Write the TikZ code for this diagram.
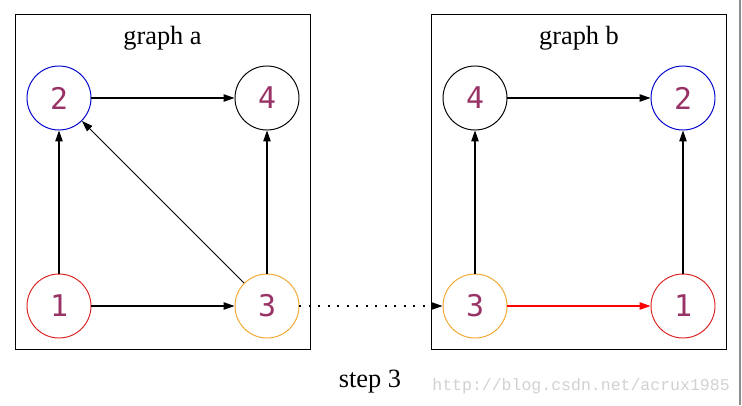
\documentclass[tikz,border=0pt]{standalone}
\usepackage{fontspec}
\setmainfont{Liberation Serif}
\newfontfamily\digitfont{DejaVu Sans Mono}
\newfontfamily\markfont{Liberation Mono}
\usepackage{xcolor}
\usepackage{tikz}
\usetikzlibrary{positioning}
\usetikzlibrary{arrows.meta}
\usetikzlibrary{fit}

\definecolor{numcol}{HTML}{993366}
\definecolor{vblue}{HTML}{0000CC}
\definecolor{vred}{HTML}{DD2222}
\definecolor{vorange}{HTML}{F0A830}

\begin{document}
\begin{tikzpicture}[node distance=4.16cm,
		vtx/.style={draw, circle, minimum size=1.28cm, inner sep=0pt, line width=0.55pt, text=numcol, font=\digitfont\fontsize{17}{20}\selectfont},
		edge/.style={-{Triangle[length=0.22cm, width=0.15cm]}, line width=0.6pt},
		frame/.style={draw, rectangle, inner sep=0.22cm, line width=0.65pt},
		title/.style={anchor=base, inner sep=0pt, font=\fontsize{15}{18}\selectfont}]
			\useasboundingbox (0,0) rectangle (14.84,8.1);

			% graph a
			\node[vtx, draw=vred] (a1) at (1.18,1.98) {1};
			\node[vtx, draw=vorange, right of=a1] (a3) {3};
			\node[vtx, draw=vblue, above of=a1] (a2) {2};
			\node[vtx, right of=a2] (a4) {4};
			\node[title] (ta) at (3.25,7.22) {graph a};
			\node[frame, fit=(a1)(a4)(ta)] (fa) {};

			\draw[edge] (a1) -- (a2);
			\draw[edge] (a1) -- (a3);
			\draw[edge] (a2) -- (a4);
			\draw[edge] (a3) -- (a2);
			\draw[edge] (a3) -- (a4);

			% graph b
			\node[vtx, draw=vorange] (b3) at (9.50,1.98) {3};
			\node[vtx, draw=vred, right of=b3] (b1) {1};
			\node[vtx, above of=b3] (b4) {4};
			\node[vtx, draw=vblue, right of=b4] (b2) {2};
			\node[title] (tb) at (11.58,7.22) {graph b};
			\node[frame, fit=(b3)(b2)(tb)] (fb) {};

			\draw[edge] (b3) -- (b4);
			\draw[edge] (b4) -- (b2);
			\draw[edge] (b1) -- (b2);
			\draw[edge, color=red] (b3) -- (b1);

			% step between the two graphs
			\draw[edge, dash pattern=on 1pt off 4.4pt] (a3) -- (b3);
			\node[title] (step) at (7.40,0.36) {step 3};
			\node[anchor=base west, inner sep=0pt, text=black!18, font=\markfont\fontsize{9.4}{11}\selectfont] (mark) at (8.64,0.30) {http://blog.csdn.net/acrux1985};
			\draw[black!45, line width=0.6pt] (14.80,0) -- (14.80,8.1);
		\end{tikzpicture}
\end{document}
